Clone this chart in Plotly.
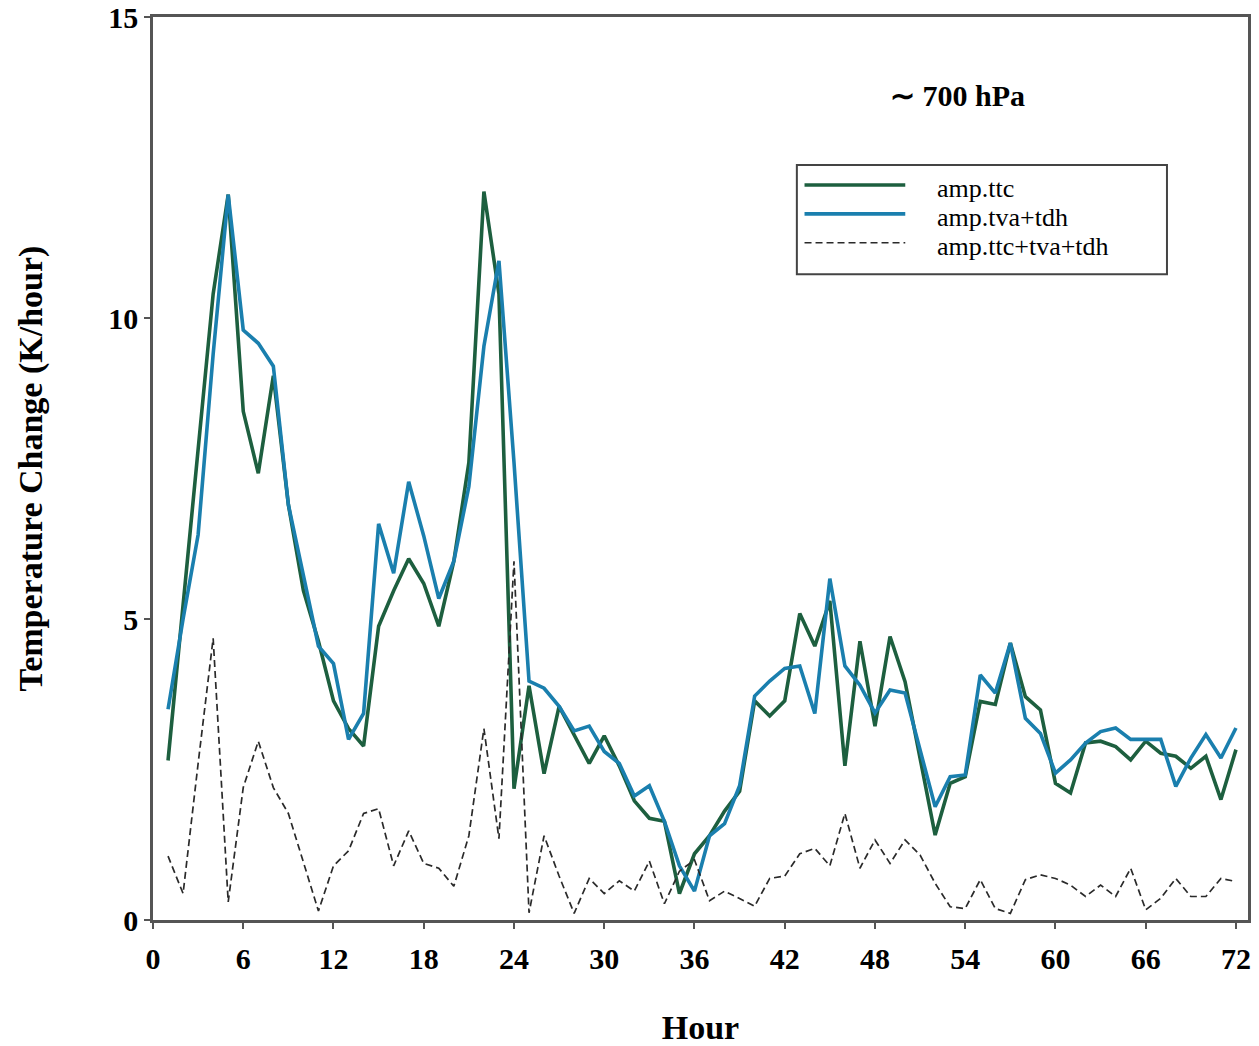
import plotly.graph_objects as go

hours = list(range(1, 73))

ttc = [2.65, 5.2, 7.8, 10.4, 12.05, 8.45, 7.42, 9.04, 6.9, 5.47,
       4.63, 3.64, 3.18, 2.89, 4.88, 5.47, 6.0, 5.59, 4.88, 5.96,
       7.6, 12.1, 10.4, 2.18, 3.89, 2.43, 3.55, 3.06, 2.6, 3.06,
       2.56, 1.98, 1.69, 1.64, 0.44, 1.1, 1.4, 1.81, 2.14, 3.64,
       3.39, 3.64, 5.09, 4.55, 5.3, 2.56, 4.63, 3.22, 4.71, 3.96,
       2.69, 1.41, 2.27, 2.38, 3.63, 3.58, 4.6, 3.71, 3.49, 2.27,
       2.11, 2.94, 2.97, 2.88, 2.66, 2.97, 2.77, 2.72, 2.52, 2.72,
       2.0, 2.83]

tva_tdh = [3.5, 5.0, 6.4, 9.4, 12.05, 9.8, 9.58, 9.2, 6.9, 5.7,
           4.55, 4.26, 3.0, 3.43, 6.58, 5.76, 7.28, 6.38, 5.34, 5.96,
           7.2, 9.53, 10.95, 7.6, 3.97, 3.85, 3.55, 3.14, 3.22, 2.8,
           2.6, 2.06, 2.23, 1.64, 0.9, 0.48, 1.4, 1.6, 2.23, 3.72,
           3.97, 4.18, 4.22, 3.43, 5.67, 4.22, 3.9, 3.44, 3.82, 3.77,
           2.83, 1.88, 2.38, 2.41, 4.07, 3.77, 4.6, 3.35, 3.1, 2.44,
           2.66, 2.94, 3.13, 3.19, 3.0, 3.0, 3.0, 2.22, 2.69, 3.08,
           2.69, 3.19]

ttc_tva_tdh = [1.06, 0.44, 2.6, 4.68, 0.3, 2.2, 2.97, 2.2, 1.77, 0.98,
               0.15, 0.9, 1.15, 1.77, 1.85, 0.9, 1.48, 0.94, 0.86, 0.56,
               1.4, 3.18, 1.35, 5.96, 0.12, 1.4, 0.73, 0.11, 0.69, 0.44,
               0.65, 0.48, 0.98, 0.27, 0.81, 1.0, 0.32, 0.48, 0.36, 0.23,
               0.69, 0.73, 1.1, 1.19, 0.9, 1.77, 0.86, 1.33, 0.94, 1.33,
               1.08, 0.61, 0.22, 0.19, 0.67, 0.19, 0.11, 0.67, 0.75, 0.69,
               0.58, 0.39, 0.58, 0.39, 0.86, 0.17, 0.36, 0.69, 0.39, 0.39,
               0.69, 0.64]

x_ticks = list(range(0, 73, 6))
y_ticks = [0, 5, 10, 15]

series_names = ["amp.ttc", "amp.tva+tdh", "amp.ttc+tva+tdh"]
GREEN = "#1d5f3f"
BLUE = "#1a7fae"
DASH = "#2a2a2a"

SERIF = "Liberation Serif, Times New Roman, serif"

fig = go.Figure()
fig.add_trace(go.Scatter(x=hours, y=ttc, mode="lines", name=series_names[0],
                         line=dict(color=GREEN, width=3.6)))
fig.add_trace(go.Scatter(x=hours, y=tva_tdh, mode="lines", name=series_names[1],
                         line=dict(color=BLUE, width=3.6)))
fig.add_trace(go.Scatter(x=hours, y=ttc_tva_tdh, mode="lines", name=series_names[2],
                         line=dict(color=DASH, width=1.7, dash="7px,4px")))

fig.update_layout(
    width=1259, height=1046,
    margin=dict(l=153, r=11, t=17, b=126),
    paper_bgcolor="white", plot_bgcolor="white",
    showlegend=False,
    font=dict(family=SERIF, color="black"),
)

fig.update_xaxes(
    range=[0, 72.8], tickvals=x_ticks, ticktext=[str(v) for v in x_ticks],
    ticks="outside", ticklen=6, tickwidth=1.5, tickcolor="#555",
    showline=True, linecolor="#555", linewidth=2.5, mirror=True,
    showgrid=False, zeroline=False, automargin=False,
    tickfont=dict(family=SERIF, size=30, color="black", weight="bold"),
    ticklabelstandoff=4,
    title=dict(text="<b>Hour</b>", font=dict(family=SERIF, size=34, color="black"), standoff=44),
)
fig.update_yaxes(
    range=[0, 15], tickvals=y_ticks, ticktext=[str(v) for v in y_ticks],
    ticks="outside", ticklen=6, tickwidth=1.5, tickcolor="#555",
    showline=True, linecolor="#555", linewidth=2.5, mirror=True,
    showgrid=False, zeroline=False, automargin=False,
    tickfont=dict(family=SERIF, size=30, color="black", weight="bold"),
    title=dict(text="<b>Temperature Change (K/hour)</b>",
               font=dict(family=SERIF, size=34, color="black"), standoff=56),
)

fig.add_annotation(x=53.5, y=13.7, xref="x", yref="y", text="<b>∼ 700 hPa</b>",
                   showarrow=False, font=dict(family=SERIF, size=30, color="black"))

# manual legend (paper coordinates)
lx0, lx1, ly0, ly1 = 0.588, 0.926, 0.715, 0.836
fig.add_shape(type="rect", xref="paper", yref="paper", x0=lx0, x1=lx1, y0=ly0, y1=ly1,
              line=dict(color="#444", width=2), fillcolor="white", layer="above")
row_y = [0.814, 0.782, 0.750]
styles = [dict(color=GREEN, width=3.6), dict(color=BLUE, width=3.6),
          dict(color=DASH, width=1.7, dash="7px,4px")]
for name, yy, st in zip(series_names, row_y, styles):
    fig.add_shape(type="line", xref="paper", yref="paper", x0=0.595, x1=0.687,
                  y0=yy, y1=yy, line=st, layer="above")
    fig.add_annotation(x=0.714, y=yy - 0.004, xref="paper", yref="paper", text=name,
                       xanchor="left", yanchor="middle", showarrow=False,
                       font=dict(family=SERIF, size=26, color="black"))

fig.write_html("out.html")
